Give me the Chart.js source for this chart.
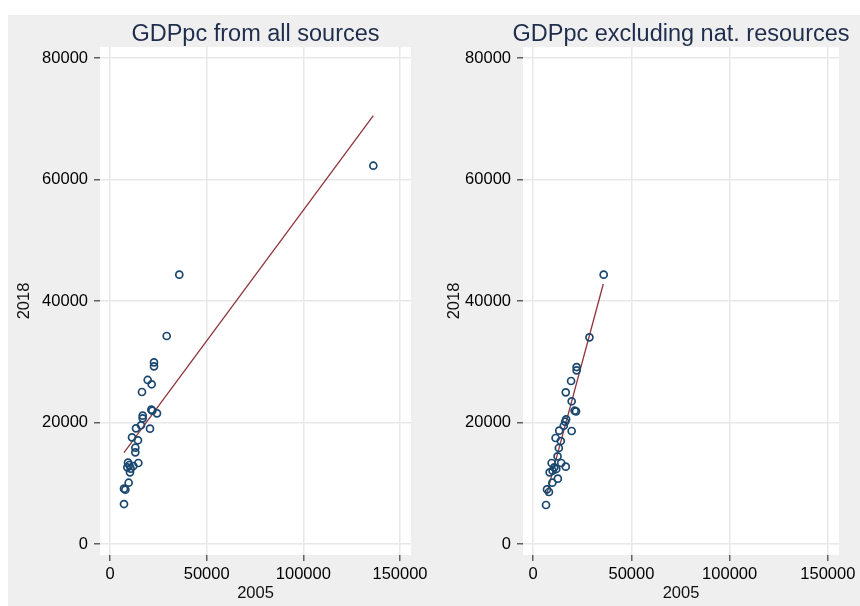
<!DOCTYPE html>
<html lang="en">
<head>
<meta charset="UTF-8">
<title>GDPpc 2005 vs 2018</title>
<script src="https://cdn.jsdelivr.net/npm/chart.js"></script>
<style>
  body { margin: 0; background: #fff; overflow: hidden; }
  #bg { position: absolute; left: 8px; top: 15px; width: 852px; height: 591px; background: #efefef; }
  canvas { position: absolute; top: 15px; }
  #left { left: 8px; }
  #right { left: 420px; }
</style>
</head>
<body>
<div id="bg"></div>
<canvas id="left" width="432" height="591"></canvas>
<canvas id="right" width="440" height="591"></canvas>
<script>
// values (GDP per capita, 2005 on x, 2018 on y)
const allX = [35850, 29320, 22760, 22760, 19500, 21550, 16550, 21380, 21900, 24310,
              16900, 16900, 16030, 20690, 13450, 11380, 14480, 13100, 13100, 9310,
              14650, 10000, 12070, 8970, 10690, 10340, 9650, 7240, 7930, 7240, 136200];
const allY = [44330, 34240, 29900, 29250, 27000, 26290, 25020, 22110, 21940, 21510,
              21120, 20690, 19540, 18980, 19040, 17560, 17070, 15850, 15090, 13390,
              13330, 13000, 12840, 12620, 12400, 11800, 10090, 9110, 8940, 6580, 62270];
const allFitX = [7240, 136200];
const allFitY = [15030, 70500];

const exclX = [35890, 28650, 22120, 22120, 19300, 16590, 19600, 21110, 21820, 16790,
               16290, 15580, 13270, 19600, 11410, 14080, 13070, 12420, 9400, 14280,
               10760, 16590, 8390, 11760, 9900, 12570, 9750, 7040, 8040, 6540];
const exclY = [44330, 34020, 29130, 28590, 26830, 24970, 23490, 21940, 21840, 20520,
               20130, 19470, 18650, 18600, 17450, 16950, 15800, 14430, 13330, 13330,
               12620, 12730, 11800, 12340, 12070, 10750, 10090, 9000, 8560, 6420];
const exclFitX = [6710, 35690];
const exclFitY = [8010, 42800];

const xTicks = [0, 50000, 100000, 150000];
const yTicks = [0, 20000, 40000, 60000, 80000];

const FONT = "'Liberation Sans', Arial, sans-serif";

const plotBg = {
  id: 'plotBg',
  beforeDraw(chart) {
    const a = chart.chartArea, ctx = chart.ctx;
    ctx.save();
    ctx.fillStyle = '#ffffff';
    ctx.fillRect(a.left, a.top, a.right - a.left, a.bottom - a.top);
    ctx.restore();
  }
};

// panel title centred over the plot region, drawn at full width
const panelTitle = {
  id: 'panelTitle',
  afterDraw(chart, args, opts) {
    const a = chart.chartArea, ctx = chart.ctx;
    ctx.save();
    ctx.font = '23.5px ' + FONT;
    ctx.fillStyle = '#1f2d4d';
    ctx.textAlign = 'center';
    ctx.textBaseline = 'alphabetic';
    ctx.fillText(opts.text, (a.left + a.right) / 2, 26);
    ctx.restore();
  }
};

function pts(xs, ys) {
  return xs.map((x, i) => ({ x: x, y: ys[i] }));
}

function makePanel(id, title, xs, ys, fx, fy, yAxisWidth, padRight, yTitlePad) {
  return new Chart(document.getElementById(id), {
    data: {
      datasets: [
        {
          type: 'scatter',
          data: pts(xs, ys),
          pointStyle: 'circle',
          pointRadius: 3.5,
          borderWidth: 1.7,
          borderColor: '#1a476f',
          backgroundColor: 'rgba(0,0,0,0)'
        },
        {
          type: 'line',
          data: pts(fx, fy),
          borderColor: '#90353b',
          borderWidth: 1.3,
          pointRadius: 0,
          fill: false
        }
      ]
    },
    options: {
      responsive: false,
      animation: false,
      layout: { padding: { top: 32, right: padRight, bottom: 0, left: 0 } },
      plugins: {
        legend: { display: false },
        tooltip: { enabled: false },
        title: { display: false },
        panelTitle: { text: title }
      },
      scales: {
        x: {
          type: 'linear',
          min: -5170,
          max: 155690,
          afterBuildTicks: s => { s.ticks = xTicks.map(v => ({ value: v })); },
          afterFit: s => { s.height = 51; },
          border: { display: false },
          grid: { color: '#e8e8e8', lineWidth: 1.5, tickColor: '#606060', tickLength: 6 },
          ticks: { color: '#000', padding: 4, font: { family: FONT, size: 16.5 }, maxRotation: 0, callback: v => String(v) },
          title: { display: true, text: '2005', color: '#111', font: { family: FONT, size: 16.5 }, padding: { top: 0, bottom: 3 } }
        },
        y: {
          type: 'linear',
          min: -1811,
          max: 81811,
          afterBuildTicks: s => { s.ticks = yTicks.map(v => ({ value: v })); },
          afterFit: s => { s.width = yAxisWidth; },
          border: { display: false },
          grid: { color: '#e8e8e8', lineWidth: 1.5, tickColor: '#606060', tickLength: 6 },
          ticks: { color: '#000', padding: 6, font: { family: FONT, size: 16.5 }, callback: v => String(v) },
          title: { display: true, text: '2018', color: '#111', font: { family: FONT, size: 16.5 }, padding: { top: yTitlePad, bottom: 0 } }
        }
      }
    },
    plugins: [plotBg, panelTitle]
  });
}

makePanel('left', 'GDPpc from all sources', allX, allY, allFitX, allFitY, 92, 29, 7);
makePanel('right', 'GDPpc excluding nat. resources', exclX, exclY, exclFitX, exclFitY, 103, 17, 25);
</script>
</body>
</html>
